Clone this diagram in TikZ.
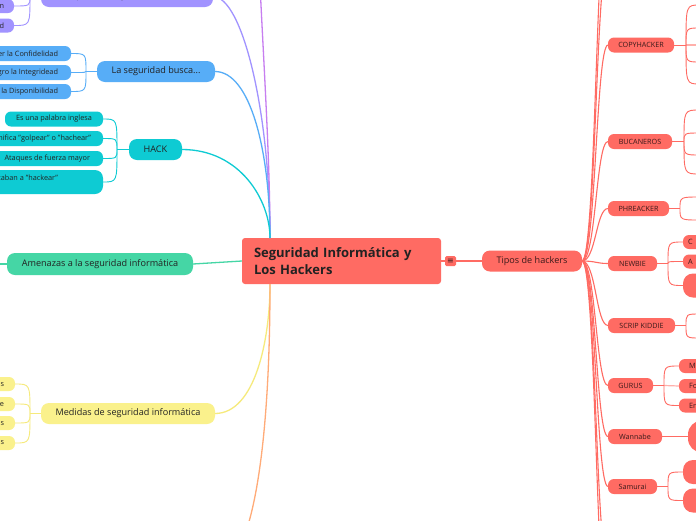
\documentclass[tikz,border=0pt]{standalone}
\usepackage{fontspec}
\setmainfont{Open Sans}
\newfontfamily\symfont{DejaVu Sans}
\definecolor{cred}{HTML}{FF6B63}
\definecolor{cpink}{HTML}{FFB0AB}
\definecolor{cpurple}{HTML}{A193FF}
\definecolor{cviolet}{HTML}{C77EF0}
\definecolor{cblue}{HTML}{57ADF7}
\definecolor{cteal}{HTML}{0ECBD3}
\definecolor{cgreen}{HTML}{45D6A5}
\definecolor{cyellow}{HTML}{FAF18C}
\definecolor{cyline}{HTML}{F6EA7C}
\definecolor{corange}{HTML}{FFAB78}
\definecolor{txt}{HTML}{222222}
\definecolor{rtxt}{HTML}{3A1A1A}
\begin{document}
\begin{tikzpicture}[x=1pt,y=-1pt,
  every node/.style={inner sep=0pt, outer sep=0pt},
  mainnode/.style={rounded corners=8pt, minimum height=21pt, font=\fontsize{9.1}{11}\selectfont, text=txt},
  typenode/.style={fill=cred, rounded corners=6pt, minimum height=15pt, font=\fontsize{7.2}{9}\selectfont, text=rtxt},
  leafL/.style={rounded corners=6pt, minimum height=14pt, anchor=east, font=\fontsize{7.3}{9}\selectfont, text=txt},
  leafR/.style={fill=cred, rounded corners=6pt, minimum height=14pt, anchor=west, font=\fontsize{7.3}{9}\selectfont, text=rtxt, text width=30pt, align=left, inner xsep=5pt},
  mainline/.style={line width=1.3pt},
  leafline/.style={line width=0.9pt},
]
\useasboundingbox (0,0) rectangle (696,520);
\clip (0,0) rectangle (696,520);
\fill[white] (0,0) rectangle (696,520);

% ---------- central ----------
\node[fill=cred, rounded corners=3pt, minimum height=46pt, text width=175pt, align=left,
      inner xsep=12pt, font=\fontsize{13}{17}\selectfont\bfseries, text=txt] (C) at (341.5,261)
      {Seguridad Informática y\\Los Hackers};
\coordinate (Ct) at (270,238);
\coordinate (Cb) at (270,284);
\node[fill=cred, rounded corners=1.5pt, minimum width=11pt, minimum height=10pt,
      font=\symfont\fontsize{8}{8}\selectfont, text=rtxt] (I) at (450.5,261) {≡};
\node[mainnode, fill=cred, minimum width=100pt, text=rtxt] (T) at (532,261) {Tipos de hackers};
\draw[cred, mainline] (C.east) -- (I.west);
\draw[cred, mainline] (I.east) -- (T.west);

% ---------- hacker types ----------
\node[typenode, minimum width=66pt] (t1) at (641,45) {COPYHACKER};
\node[typenode, minimum width=64pt] (t2) at (640,141.5) {BUCANEROS};
\node[typenode, minimum width=61pt] (t3) at (638.5,208.5) {PHREACKER};
\node[typenode, minimum width=49pt] (t4) at (632.5,263.5) {NEWBIE};
\node[typenode, minimum width=67pt] (t5) at (641.5,325.5) {SCRIP KIDDIE};
\node[typenode, minimum width=45pt] (t6) at (630.5,385.5) {GURUS};
\node[typenode, minimum width=54pt] (t7) at (635,436.5) {Wannabe};
\node[typenode, minimum width=49pt] (t8) at (632.5,486.5) {Samurai};
\coordinate (ta) at (608,-40);
\coordinate (tb) at (608,-95);
\coordinate (tc) at (608,565);
\coordinate (td) at (608,620);
\foreach \n in {t1,t2,t3,t4,t5,t6,t7,t8}
  \draw[cred, line width=1.1pt] (T.east) .. controls +(14,0) and +(-12,0) .. (\n.west);
\foreach \n in {ta,tb,tc,td}
  \draw[cred, line width=1.1pt] (T.east) .. controls +(14,0) and +(-12,0) .. (\n);

% COPYHACKER leaves
\coordinate (j1) at (686,45);
\draw[cred, leafline] (t1.east) -- (j1);
\coordinate (c1m) at (700,45);
\draw[cpink, line width=1.2pt] (j1) -- (c1m);
\foreach \y [count=\i] in {5,28,62,84}{
  \coordinate (c1\i) at (700,\y);
  \draw[cred, leafline] (j1) .. controls (j1 |- c1\i) .. (c1\i);}
% BUCANEROS leaves
\coordinate (j2) at (684,141.5);
\draw[cred, leafline] (t2.east) -- (j2);
\foreach \y [count=\i] in {110,133,155,174}{
  \coordinate (c2\i) at (700,\y);
  \draw[cred, leafline] (j2) .. controls (j2 |- c2\i) .. (c2\i);}
% PHREACKER leaves
\coordinate (j3) at (680,208.5);
\draw[cred, leafline] (t3.east) -- (j3);
\foreach \y [count=\i] in {197,220}{
  \coordinate (c3\i) at (700,\y);
  \draw[cred, leafline] (j3) .. controls (j3 |- c3\i) .. (c3\i);}
% NEWBIE leaves
\node[leafR] (n1) at (683,242) {C};
\node[leafR] (n2) at (683,261.5) {A};
\node[leafR, minimum height=24pt, rounded corners=10pt] (n3) at (683,285.5) {};
\coordinate (j4) at (668,263.5);
\draw[cred, leafline] (t4.east) -- (j4);
\foreach \n in {n1,n2,n3}
  \draw[cred, leafline] (j4) .. controls (j4 |- \n.west) .. (\n.west);
% SCRIP KIDDIE leaves
\coordinate (j5) at (686,325.5);
\draw[cred, leafline] (t5.east) -- (j5);
\foreach \y [count=\i] in {314,338}{
  \coordinate (c5\i) at (700,\y);
  \draw[cred, leafline] (j5) .. controls (j5 |- c5\i) .. (c5\i);}
% GURUS leaves
\node[leafR, inner xsep=10pt] (g1) at (679,366) {M};
\node[leafR, inner xsep=10pt] (g2) at (679,386) {Fo};
\node[leafR, inner xsep=10pt] (g3) at (679,405.5) {En};
\coordinate (j6) at (664,385.5);
\draw[cred, leafline] (t6.east) -- (j6);
\draw[cpink, line width=1.2pt] (j6) -- (g2.west);
\foreach \n in {g1,g3}
  \draw[cred, leafline] (j6) .. controls (j6 |- \n.west) .. (\n.west);
% Wannabe leaf
\node[leafR, minimum height=32pt, rounded corners=14pt] (w1) at (688,436.5) {};
\draw[cred, leafline] (t7.east) -- (w1.west);
% Samurai leaves
\node[leafR, minimum height=24pt, rounded corners=10pt] (s1) at (683,472) {};
\node[leafR, minimum height=24pt, rounded corners=10pt] (s2) at (683,500.5) {};
\coordinate (j8) at (668,486.5);
\draw[cred, leafline] (t8.east) -- (j8);
\foreach \n in {s1,s2}
  \draw[cred, leafline] (j8) .. controls (j8 |- \n.west) .. (\n.west);

% ---------- purple branch ----------
\node[mainnode, fill=cpurple, minimum width=172pt] (P) at (127,-3.5) {Conceptos de seguridad informática};
\node[leafL, fill=cpurple, inner xsep=10pt] (p1) at (14,6) {Autenticación};
\node[leafL, fill=cpurple, inner xsep=10pt] (p2) at (14,25.5) {Confidencialidad};
\coordinate (jP) at (30,-3.5);
\draw[cpurple, leafline] (P.west) -- (jP);
\foreach \n in {p1,p2}
  \draw[cpurple, leafline] (jP) .. controls (jP |- \n.east) .. (\n.east);
\draw[cpurple, mainline] (P.east) .. controls (242,-3.5) and (270,110) .. (Ct);
\coordinate (V) at (258,-60);
\draw[cviolet, mainline] (V) .. controls (262,40) and (270,150) .. (Ct);

% ---------- blue branch ----------
\node[mainnode, fill=cblue, minimum width=118pt] (B) at (156,71.5) {La seguridad busca...};
\node[leafL, fill=cblue, minimum height=15pt, inner xsep=13pt] (b1) at (71,53.5) {Mantener la Confidelidad};
\node[leafL, fill=cblue, minimum height=15pt, inner xsep=13pt] (b2) at (71,72.5) {Logro la Integridead};
\node[leafL, fill=cblue, minimum height=15pt, inner xsep=13pt] (b3) at (71,91.5) {Garantizar la Disponibilidad};
\coordinate (jB) at (86,71.5);
\draw[cblue, leafline] (B.west) -- (jB);
\foreach \n in {b1,b2,b3}
  \draw[cblue, leafline] (jB) .. controls (jB |- \n.east) .. (\n.east);
\draw[cblue, mainline] (B.east) .. controls (250,71.5) and (270,150) .. (Ct);

% ---------- teal branch ----------
\node[mainnode, fill=cteal, minimum width=53pt] (H) at (155.5,149.5) {HACK};
\node[leafL, fill=cteal, minimum width=98pt, minimum height=15pt] (h1) at (103,119) {Es una palabra inglesa};
\node[leafL, fill=cteal, inner xsep=12pt, minimum height=15pt] (h2) at (103,138.5) {Significa "golpear" o "hachear"};
\node[leafL, fill=cteal, inner xsep=13pt, minimum height=15pt] (h3) at (103,158.5) {Ataques de fuerza mayor};
\node[leafL, fill=cteal, minimum height=24pt, rounded corners=8pt, align=left, inner xsep=45pt] (h4) at (103,182) {Personas que se dedicaban a "hackear"\\sistemas};
\coordinate (jH) at (117,149.5);
\draw[cteal, leafline] (H.west) -- (jH);
\foreach \n in {h1,h2,h3,h4}
  \draw[cteal, leafline] (jH) .. controls (jH |- \n.east) .. (\n.east);
\draw[cteal, mainline] (H.east) .. controls (240,149.5) and (270,200) .. (Ct);

% ---------- green branch ----------
\node[mainnode, fill=cgreen, minimum width=186pt, minimum height=22pt] (G) at (100,264) {Amenazas a la seguridad informática};
\coordinate (g0) at (-20,264);
\draw[cgreen, mainline] (G.east) -- (C.west);
\draw[cgreen, mainline] (G.west) -- (g0);

% ---------- yellow branch ----------
\node[mainnode, fill=cyellow, minimum width=174pt] (Y) at (128,413.5) {Medidas de seguridad informática};
\node[leafL, fill=cyellow, inner xsep=11pt] (y1) at (15,384) {Usar antivirus};
\node[leafL, fill=cyellow, inner xsep=11pt] (y2) at (15,404) {Actualizar el software};
\node[leafL, fill=cyellow, inner xsep=11pt] (y3) at (15,423) {Cifrar los datos};
\node[leafL, fill=cyellow, inner xsep=11pt] (y4) at (15,443) {Evitar sitios sospechosos};
\coordinate (jY) at (30,413.5);
\draw[cyline, leafline] (Y.west) -- (jY);
\foreach \n in {y1,y2,y3,y4}
  \draw[cyline, leafline] (jY) .. controls (jY |- \n.east) .. (\n.east);
\draw[cyline, mainline] (Y.east) .. controls (255,413.5) and (270,340) .. (Cb);

% ---------- orange branch ----------
\coordinate (O) at (215,570);
\draw[corange, mainline] (Cb) .. controls (270,460) and (250,570) .. (O);
\end{tikzpicture}
\end{document}
